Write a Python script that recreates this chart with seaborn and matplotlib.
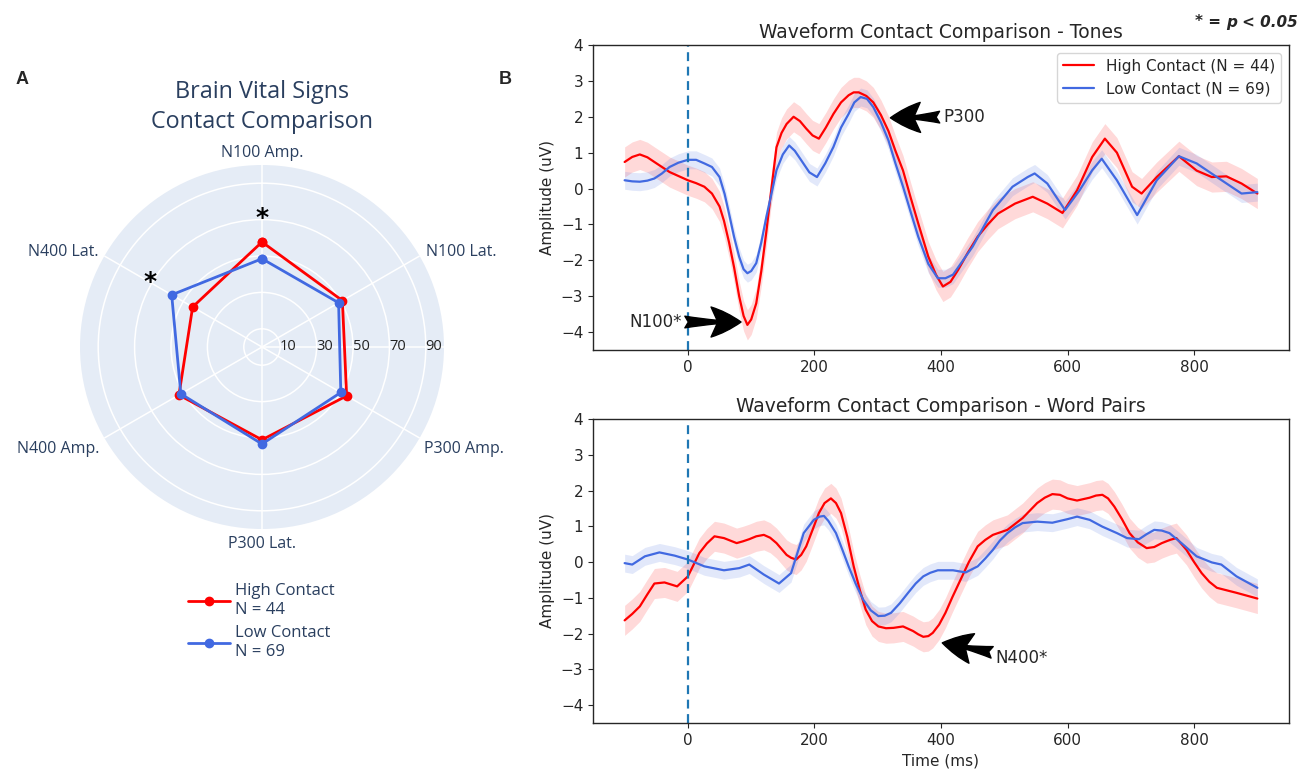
import numpy as np
import pandas as pd
import matplotlib
matplotlib.use("Agg")
import matplotlib.pyplot as plt
from matplotlib.lines import Line2D
import seaborn as sns

# ---------------- data ----------------
radar_categories = ["N100 Amp.", "N100 Lat.", "P300 Amp.", "P300 Lat.", "N400 Amp.", "N400 Lat."]
radar_high = [57.7, 51.0, 53.7, 51.0, 52.7, 44.0]
radar_low = [48.5, 48.6, 50.0, 53.3, 51.5, 57.3]
radar_ticks = [10, 30, 50, 70, 90]
radar_sig = {"N100 Amp.": 71, "N400 Lat.": 71}

high_label = "High Contact (N = 44)"
low_label = "Low Contact (N = 69)"

tones_t_high = [-100, -88, -76, -64, -53, -29, 0, 13, 26, 38, 50, 57, 65, 73, 81, 88, 94, 100,
                108, 116, 124, 132, 140, 148, 156, 167, 177, 187, 197, 207, 218, 230, 242,
                254, 262, 270, 282, 293, 305, 317, 328, 340, 352, 364, 380, 392, 403, 415,
                427, 442, 458, 474, 490, 517, 545, 568, 592, 615, 639, 659, 678, 702, 717,
                741, 776, 804, 828, 851, 875, 900]
tones_v_high = [0.74, 0.88, 0.95, 0.87, 0.74, 0.46, 0.23, 0.15, 0.05, -0.14, -0.5, -0.9, -1.5,
                -2.2, -3.0, -3.55, -3.8, -3.65, -3.2, -2.3, -1.2, 0.0, 1.15, 1.55, 1.8, 2.0,
                1.88, 1.67, 1.48, 1.39, 1.7, 2.08, 2.4, 2.6, 2.68, 2.68, 2.58, 2.4, 2.05,
                1.6, 1.05, 0.5, -0.25, -0.97, -1.9, -2.4, -2.73, -2.6, -2.27, -1.8, -1.34,
                -1.0, -0.7, -0.42, -0.23, -0.42, -0.68, -0.05, 0.88, 1.39, 1.0, 0.05,
                -0.14, 0.32, 0.9, 0.5, 0.32, 0.34, 0.14, -0.14]
tones_t_low = [-100, -88, -76, -64, -53, -41, -29, -15, 0, 13, 26, 38, 50, 58, 65, 73, 81, 88,
               94, 100, 108, 116, 124, 132, 140, 150, 160, 169, 179, 192, 204, 217, 230, 242,
               254, 263, 273, 283, 293, 305, 317, 328, 340, 352, 364, 380, 395, 407, 419,
               450, 482, 513, 537, 548, 568, 596, 619, 639, 654, 678, 710, 741, 776, 804,
               836, 875, 900]
tones_v_low = [0.23, 0.2, 0.19, 0.22, 0.28, 0.42, 0.6, 0.72, 0.8, 0.8, 0.7, 0.6, 0.32, -0.15,
               -0.7, -1.35, -1.9, -2.25, -2.36, -2.3, -2.08, -1.5, -0.79, -0.15, 0.51, 0.95,
               1.2, 1.05, 0.79, 0.45, 0.32, 0.7, 1.16, 1.7, 2.08, 2.4, 2.55, 2.5, 2.27, 1.85,
               1.34, 0.7, 0.05, -0.65, -1.34, -2.1, -2.5, -2.5, -2.4, -1.62, -0.6, 0.05,
               0.32, 0.42, 0.14, -0.6, -0.05, 0.51, 0.83, 0.23, -0.74, 0.23, 0.9, 0.7, 0.32,
               -0.14, -0.1]

words_t_high = [-100, -88, -76, -64, -53, -37, -17, 0, 18, 30, 42, 57, 67, 77, 87, 97, 108,
                120, 130, 140, 156, 163, 171, 179, 187, 197, 207, 216, 226, 234, 242, 252,
                262, 272, 281, 291, 301, 313, 325, 340, 356, 364, 372, 380, 387, 397, 407,
                418, 431, 444, 458, 470, 482, 505, 529, 552, 564, 576, 588, 600, 615, 635,
                645, 655, 664, 674, 686, 698, 711, 725, 737, 749, 762, 772, 788, 800, 812,
                824, 836, 867, 900]
words_v_high = [-1.63, -1.45, -1.24, -0.9, -0.6, -0.57, -0.68, -0.4, 0.25, 0.52, 0.72, 0.67,
                0.6, 0.53, 0.58, 0.64, 0.72, 0.76, 0.68, 0.53, 0.2, 0.12, 0.07, 0.2, 0.44,
                0.9, 1.37, 1.65, 1.78, 1.65, 1.37, 0.7, -0.12, -0.8, -1.33, -1.65, -1.8,
                -1.85, -1.84, -1.8, -1.93, -2.02, -2.09, -2.07, -1.98, -1.75, -1.42, -0.98,
                -0.49, 0.0, 0.44, 0.62, 0.76, 0.9, 1.23, 1.65, 1.8, 1.9, 1.88, 1.78, 1.72,
                1.8, 1.86, 1.88, 1.78, 1.55, 1.2, 0.81, 0.55, 0.39, 0.42, 0.53, 0.62, 0.67,
                0.34, 0.0, -0.31, -0.55, -0.72, -0.86, -1.02]
words_t_low = [-100, -88, -68, -45, -21, 0, 26, 57, 81, 97, 120, 144, 163, 183, 199, 208, 215,
               222, 234, 244, 254, 265, 277, 289, 301, 311, 321, 335, 348, 360, 372, 383,
               395, 419, 439, 458, 470, 482, 493, 505, 517, 529, 552, 576, 600, 615, 635,
               655, 678, 694, 713, 725, 737, 749, 761, 780, 804, 828, 843, 867, 900]
words_v_low = [-0.03, -0.07, 0.16, 0.27, 0.18, 0.07, -0.12, -0.23, -0.17, -0.07, -0.35, -0.6,
               -0.31, 0.81, 1.18, 1.27, 1.29, 1.15, 0.81, 0.35, -0.12, -0.6, -1.05, -1.35,
               -1.51, -1.5, -1.42, -1.15, -0.86, -0.6, -0.4, -0.3, -0.23, -0.23, -0.29,
               -0.12, 0.1, 0.34, 0.6, 0.81, 0.97, 1.09, 1.13, 1.1, 1.2, 1.27, 1.18, 0.99,
               0.81, 0.67, 0.64, 0.78, 0.9, 0.88, 0.81, 0.53, 0.16, -0.01, -0.07, -0.4,
               -0.72]

# standard error of the mean for each group
sem_high = 0.42
sem_low = 0.25

x_ticks = [0, 200, 400, 600, 800]
y_ticks = [-4, -3, -2, -1, 0, 1, 2, 3, 4]

# ---------------- style ----------------
RED = "#ff0000"
BLUE = "#4169e1"
PLOTLY_TXT = "#2a3f5f"
PLOTLY_BG = "#e5ecf6"

sns.set_style("ticks")
plt.rcParams["font.family"] = ["DejaVu Sans"]
plt.rcParams["axes.unicode_minus"] = True

fig = plt.figure(figsize=(13.16, 7.70), dpi=100)
W, H = 1316, 770


def fx(px):
    return px / W


def fy(py):
    return 1 - py / H


# ---------------- radar panel ----------------
cx, cy, R = 262, 347, 182
pax = fig.add_axes([fx(cx - R), fy(cy + R), 2 * R / W, 2 * R / H], projection="polar")
pax.set_theta_zero_location("N")
pax.set_theta_direction(-1)
pax.set_facecolor(PLOTLY_BG)
pax.spines["polar"].set_visible(False)
pax.set_ylim(0, 100)

angles = np.linspace(0, 2 * np.pi, len(radar_categories), endpoint=False)
pax.set_xticks(list(angles) + [np.pi / 2])
pax.set_xticklabels([""] * (len(angles) + 1))
pax.set_yticks(radar_ticks)
pax.set_yticklabels([])
pax.grid(True, color="white", linewidth=1.1)
pax.tick_params(length=0)

for r in radar_ticks:
    pax.text(np.pi / 2, r + 4.5, str(r), ha="center", va="center",
             fontsize=10.5, family="Open Sans", color="#222222")

for ang, lab in zip(angles, radar_categories):
    s, c = np.sin(ang), np.cos(ang)
    ha = "left" if s > 0.1 else ("right" if s < -0.1 else "center")
    va = "bottom" if c > 0.9 else ("top" if c < -0.9 else "center")
    rr = 102 if c > 0.9 else 104
    if -0.9 < c < -0.1:
        va = "top"
        rr = 103
    pax.text(ang, rr, lab, ha=ha, va=va, fontsize=11.5, family="Open Sans",
             color=PLOTLY_TXT, clip_on=False)

ang_closed = np.append(angles, angles[0])
for vals, col in [(radar_high, RED), (radar_low, BLUE)]:
    pax.plot(ang_closed, np.append(vals, vals[0]), color=col, linewidth=2.0,
             marker="o", markersize=6, clip_on=False, zorder=3)

for lab, r in radar_sig.items():
    ang = angles[radar_categories.index(lab)]
    pax.text(ang, r, "*", ha="center", va="center", fontsize=18, fontweight="bold",
             color="black", family="DejaVu Sans")

fig.text(fx(262), fy(107), "Brain Vital Signs\nContact Comparison", ha="center",
         va="center", fontsize=16.8, family="Open Sans", color=PLOTLY_TXT, linespacing=1.3)

fig.legend(handles=[Line2D([], [], color=RED, lw=2.0, marker="o", ms=6),
                    Line2D([], [], color=BLUE, lw=2.0, marker="o", ms=6)],
           labels=["High Contact\nN = 44", "Low Contact\nN = 69"],
           loc="upper left", bbox_to_anchor=(fx(180), fy(575)), frameon=False,
           prop={"family": "Open Sans", "size": 12}, labelcolor=PLOTLY_TXT,
           handlelength=2.5, handletextpad=0.3, labelspacing=0.45, borderpad=0)

fig.text(fx(22), fy(80), "A", ha="center", va="center", fontsize=13, fontweight="bold",
         family="Liberation Sans")
fig.text(fx(505), fy(80), "B", ha="center", va="center", fontsize=13, fontweight="bold",
         family="Liberation Sans")

# ---------------- waveform panels ----------------
ax_l, ax_r = 593, 1289
ax_top = fig.add_axes([fx(ax_l), fy(350), (ax_r - ax_l) / W, (350 - 45) / H])
ax_bot = fig.add_axes([fx(ax_l), fy(723), (ax_r - ax_l) / W, (723 - 419) / H])


def long_frame(t_high, v_high, t_low, v_low):
    return pd.concat([
        pd.DataFrame({"time": t_high, "amplitude": v_high, "group": high_label}),
        pd.DataFrame({"time": t_low, "amplitude": v_low, "group": low_label}),
    ], ignore_index=True)


panels = [
    (ax_top, "Waveform Contact Comparison - Tones",
     long_frame(tones_t_high, tones_v_high, tones_t_low, tones_v_low)),
    (ax_bot, "Waveform Contact Comparison - Word Pairs",
     long_frame(words_t_high, words_v_high, words_t_low, words_v_low)),
]
palette = {high_label: RED, low_label: BLUE}
sems = {high_label: sem_high, low_label: sem_low}

for ax, title, df in panels:
    for grp, sub in df.groupby("group"):
        ax.fill_between(sub["time"], sub["amplitude"] - sems[grp],
                        sub["amplitude"] + sems[grp], color=palette[grp],
                        alpha=0.15, linewidth=0)
    sns.lineplot(data=df, x="time", y="amplitude", hue="group", palette=palette,
                 hue_order=[high_label, low_label], linewidth=1.6, ax=ax,
                 errorbar=None, legend=(ax is ax_top))
    for ln in ax.get_lines():
        ln.set_solid_joinstyle("round")
    ax.axvline(0, color="#1f77b4", linestyle="--", linewidth=1.6, dashes=(4, 2.5))
    ax.set_ylim(-4.5, 4)
    ax.set_xticks(x_ticks)
    ax.set_yticks(y_ticks)
    ax.set_title(title, fontsize=13.5, pad=5)
    ax.set_ylabel("Amplitude (uV)", fontsize=11)
    ax.set_xlabel("")
    ax.tick_params(labelsize=11)
    for sp in ax.spines.values():
        sp.set_visible(True)
        sp.set_linewidth(1.0)

ax_bot.set_xlabel("Time (ms)", fontsize=11)
ax_top.legend(loc="upper right", fontsize=11, handlelength=2.0)

arrow_kw = dict(arrowstyle="fancy,head_length=0.9,head_width=0.9,tail_width=0.35",
                fc="black", ec="black", mutation_scale=24, shrinkA=0, shrinkB=0)
ax_top.annotate("N100*", xy=(84, -3.72), xytext=(-10, -3.72), ha="right", va="center",
                fontsize=12, arrowprops=arrow_kw)
ax_top.annotate("P300", xy=(320, 1.97), xytext=(403, 2.0), ha="left", va="center",
                fontsize=12, arrowprops=arrow_kw)
ax_bot.annotate("N400*", xy=(402, -2.26), xytext=(486, -2.68), ha="left", va="center",
                fontsize=12, arrowprops=arrow_kw)

ptxt = fig.text(fx(1298), fy(22), "p < 0.05", ha="right", va="center", fontsize=11,
                fontweight="bold", fontstyle="oblique", family="DejaVu Sans")
ax_top.annotate("* = ", xy=(0, 0.5), xycoords=ptxt, ha="right", va="center",
                fontsize=11, fontweight="bold", family="DejaVu Sans",
                annotation_clip=False)

fig.savefig("out.png", dpi=100)
